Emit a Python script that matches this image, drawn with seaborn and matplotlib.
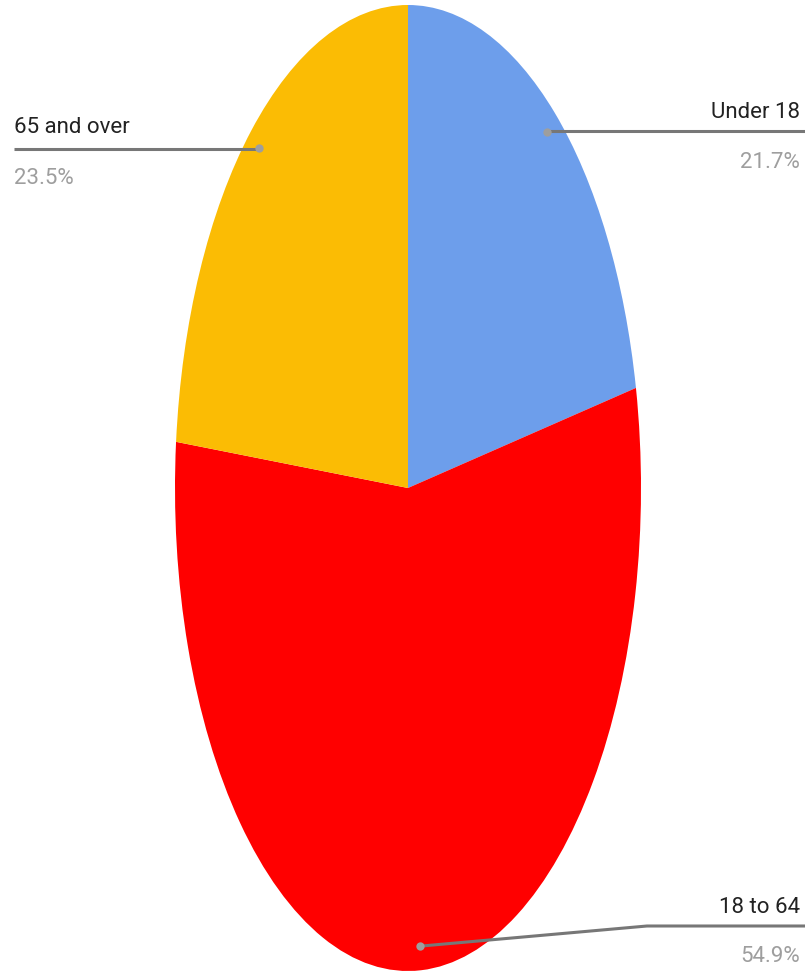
import numpy as np
import matplotlib
matplotlib.use("Agg")
import matplotlib.pyplot as plt
import seaborn as sns

# ---- data ----
categories = ["Under 18", "18 to 64", "65 and over"]
values = [21.7, 54.9, 23.5]
pct_labels = ["21.7%", "54.9%", "23.5%"]
colors = ["#6D9EEB", "#FF0000", "#FBBC04"]

sns.set_theme(style="white")
plt.rcParams["font.family"] = ["Roboto", "DejaVu Sans"]

W, H = 805, 972
fig = plt.figure(figsize=(W / 100, H / 100), dpi=100)
ax = fig.add_axes([0, 0, 1, 1])

wedges, _ = ax.pie(values, colors=colors, startangle=90, counterclock=False,
                   wedgeprops=dict(linewidth=0))
ax.set_aspect("auto")
cx, cy, rx, ry = 408, 488, 233, 483
ax.set_xlim(-cx / rx, (W - cx) / rx)
ax.set_ylim((cy - H) / ry, cy / ry)
ax.axis("off")

def to_axes(px, py):
    return px / W, 1 - py / H

line_col = "#777777"
dot_col = "#9e9e9e"

# label layout in pixels
layout = {
    "Under 18": dict(tx=800, ha="right", ny=118, py=168, ly=131, ex=None, lx=W),
    "65 and over": dict(tx=14, ha="left", ny=133, py=184, ly=149, ex=None, lx=14),
    "18 to 64": dict(tx=800, ha="right", ny=913, py=962, ly=926, ex=647, lx=W),
}

for w, name, pct in zip(wedges, categories, pct_labels):
    mid = np.deg2rad((w.theta1 + w.theta2) / 2)
    dx, dy = 0.95 * np.cos(mid), 0.95 * np.sin(mid)
    L = layout[name]
    disp = ax.transData.transform((dx, dy))
    ax_pt = ax.transAxes.inverted().transform(disp)
    pts = [tuple(ax_pt)]
    if L["ex"] is not None:
        pts.append(to_axes(L["ex"], L["ly"]))
    else:
        pts.append((ax_pt[0], 1 - L["ly"] / H))
    pts.append(to_axes(L["lx"], L["ly"]))
    xs, ys = zip(*pts)
    ax.plot(xs, ys, transform=ax.transAxes, color=line_col, lw=2.2,
            solid_capstyle="butt", clip_on=False)
    ax.plot([ax_pt[0]], [ax_pt[1]], "o", transform=ax.transAxes,
            color=dot_col, ms=6, mec="none")
    ax.text(*to_axes(L["tx"], L["ny"]), name, transform=ax.transAxes,
            ha=L["ha"], va="baseline", fontsize=16, color="#222222")
    ax.text(*to_axes(L["tx"], L["py"]), pct, transform=ax.transAxes,
            ha=L["ha"], va="baseline", fontsize=16, color="#9e9e9e")

fig.savefig("out.png", dpi=100, facecolor="white")
